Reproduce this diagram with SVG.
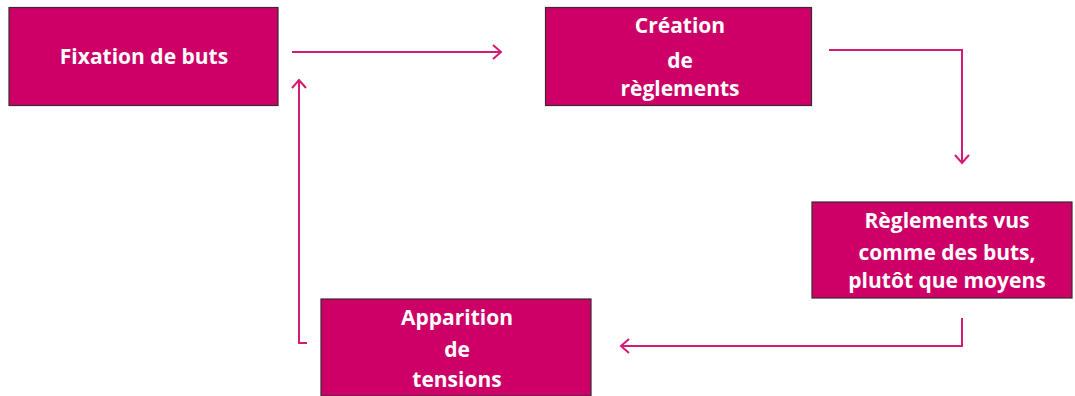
<svg xmlns="http://www.w3.org/2000/svg" width="1075" height="396" viewBox="0 0 1075 396">
<style>
.box{fill:#cc0066;stroke:#3a2a30;stroke-width:1.2}
.t{fill:#ffffff;font-family:"Open Sans","Liberation Sans",sans-serif;font-weight:bold;font-size:21px;text-anchor:middle}
.c{fill:none;stroke:#d41a73;stroke-width:2}
</style>
<defs>
<marker id="ah" markerUnits="userSpaceOnUse" markerWidth="14" markerHeight="16" refX="10" refY="8" orient="auto">
<path d="M2,1 L10,8 L2,15" fill="none" stroke="#d41a73" stroke-width="2"/>
</marker>
</defs>
<rect width="1075" height="396" fill="#ffffff"/>
<g id="n1">
<rect class="box" x="9" y="7.5" width="269" height="98"/>
<text class="t" x="144" y="64">Fixation de buts</text>
</g>
<g id="n2">
<rect class="box" x="545.5" y="7.5" width="266" height="98"/>
<text class="t" x="680" y="33">Création</text>
<text class="t" x="680" y="68">de</text>
<text class="t" x="680" y="96">règlements</text>
</g>
<g id="n3">
<rect class="box" x="812" y="202" width="260" height="96"/>
<text class="t" x="947" y="228">Règlements vus</text>
<text class="t" x="947" y="260">comme des buts,</text>
<text class="t" x="947" y="288">plutôt que moyens</text>
</g>
<g id="n4">
<rect class="box" x="321" y="299" width="270" height="97"/>
<text class="t" x="457" y="325">Apparition</text>
<text class="t" x="457" y="357">de</text>
<text class="t" x="457" y="387">tensions</text>
</g>
<g id="connectors">
<path class="c" d="M292,52 L501,52" marker-end="url(#ah)"/>
<path class="c" d="M829,50 L962,50 L962,163" marker-end="url(#ah)"/>
<path class="c" d="M962,318 L962,346 L621,346" marker-end="url(#ah)"/>
<path class="c" d="M307,343 L299,343 L299,80" marker-end="url(#ah)"/>
</g>
</svg>
